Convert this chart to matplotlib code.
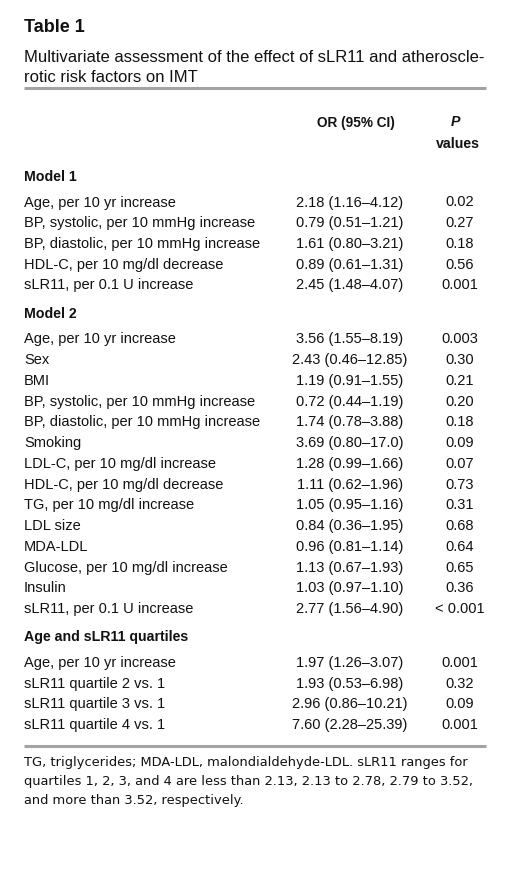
import matplotlib
matplotlib.use("Agg")
import matplotlib.pyplot as plt

# table contents
title = "Table 1"
caption = ["Multivariate assessment of the effect of sLR11 and atheroscle-",
           "rotic risk factors on IMT"]

model1_labels = ["Age, per 10 yr increase",
                 "BP, systolic, per 10 mmHg increase",
                 "BP, diastolic, per 10 mmHg increase",
                 "HDL-C, per 10 mg/dl decrease",
                 "sLR11, per 0.1 U increase"]
model1_or = ["2.18 (1.16\u20134.12)", "0.79 (0.51\u20131.21)", "1.61 (0.80\u20133.21)",
             "0.89 (0.61\u20131.31)", "2.45 (1.48\u20134.07)"]
model1_p = ["0.02", "0.27", "0.18", "0.56", "0.001"]

model2_labels = ["Age, per 10 yr increase", "Sex", "BMI",
                 "BP, systolic, per 10 mmHg increase",
                 "BP, diastolic, per 10 mmHg increase",
                 "Smoking", "LDL-C, per 10 mg/dl increase",
                 "HDL-C, per 10 mg/dl decrease", "TG, per 10 mg/dl increase",
                 "LDL size", "MDA-LDL", "Glucose, per 10 mg/dl increase",
                 "Insulin", "sLR11, per 0.1 U increase"]
model2_or = ["3.56 (1.55\u20138.19)", "2.43 (0.46\u201312.85)", "1.19 (0.91\u20131.55)",
             "0.72 (0.44\u20131.19)", "1.74 (0.78\u20133.88)", "3.69 (0.80\u201317.0)",
             "1.28 (0.99\u20131.66)", "1.11 (0.62\u20131.96)", "1.05 (0.95\u20131.16)",
             "0.84 (0.36\u20131.95)", "0.96 (0.81\u20131.14)", "1.13 (0.67\u20131.93)",
             "1.03 (0.97\u20131.10)", "2.77 (1.56\u20134.90)"]
model2_p = ["0.003", "0.30", "0.21", "0.20", "0.18", "0.09", "0.07", "0.73",
            "0.31", "0.68", "0.64", "0.65", "0.36", "< 0.001"]

quart_labels = ["Age, per 10 yr increase", "sLR11 quartile 2 vs. 1",
                "sLR11 quartile 3 vs. 1", "sLR11 quartile 4 vs. 1"]
quart_or = ["1.97 (1.26\u20133.07)", "1.93 (0.53\u20136.98)",
            "2.96 (0.86\u201310.21)", "7.60 (2.28\u201325.39)"]
quart_p = ["0.001", "0.32", "0.09", "0.001"]

section_names = ["Model 1", "Model 2", "Age and sLR11 quartiles"]
footnote = ["TG, triglycerides; MDA-LDL, malondialdehyde-LDL. sLR11 ranges for",
            "quartiles 1, 2, 3, and 4 are less than 2.13, 2.13 to 2.78, 2.79 to 3.52,",
            "and more than 3.52, respectively."]

sections = [(section_names[0], model1_labels, model1_or, model1_p),
            (section_names[1], model2_labels, model2_or, model2_p),
            (section_names[2], quart_labels, quart_or, quart_p)]

BODY = ["Liberation Sans", "DejaVu Sans"]
NOTE = ["DejaVu Sans"]
RULE = "#a3a3a3"
INK = "#111111"

fig = plt.figure(figsize=(5.09, 8.70), dpi=100)
ax = fig.add_axes([0, 0, 1, 1])
ax.set_xlim(0, 509)
ax.set_ylim(870, 0)
ax.axis("off")

x_lab, x_or, x_p = 24, 350, 460

ax.text(x_lab, 32, title, family=BODY, weight="bold", fontsize=13, va="baseline", color=INK)
for i, line in enumerate(caption):
    ax.text(x_lab, 61.7 + i * 20.2, line, family=BODY, fontsize=12.0, va="baseline", color=INK)
ax.plot([24, 486], [88.5, 88.5], color=RULE, lw=2.2, solid_capstyle="butt")

ax.text(356, 126.5, "OR (95% CI)", family=BODY, weight="bold", fontsize=9.8,
        ha="center", va="baseline", color=INK)
ax.text(455, 126.5, "P", family=BODY, weight="bold", style="italic", fontsize=10.2,
        ha="center", va="baseline", color=INK)
ax.text(458, 148, "values", family=BODY, weight="bold", fontsize=10.2,
        ha="center", va="baseline", color=INK)

step = 20.75
y = 181
for k, (name, labels, ors, ps) in enumerate(sections):
    ax.text(x_lab, y, name, family=BODY, weight="bold", fontsize=10.2, va="baseline", color=INK)
    y += 25.5
    for lab, o, p in zip(labels, ors, ps):
        ax.text(x_lab, y, lab, family=BODY, fontsize=10.5, va="baseline", color=INK)
        ax.text(x_or, y, o, family=BODY, fontsize=10.5, ha="center", va="baseline", color=INK)
        ax.text(x_p, y, p, family=BODY, fontsize=10.5, ha="center", va="baseline", color=INK)
        y += step
    y += 28.3 - step

ax.plot([24, 486], [746.5, 746.5], color=RULE, lw=2.2, solid_capstyle="butt")
for i, line in enumerate(footnote):
    ax.text(x_lab, 766 + i * 19.2, line, family=NOTE, fontsize=9.4, va="baseline", color=INK)

fig.savefig("out.png", dpi=100)
